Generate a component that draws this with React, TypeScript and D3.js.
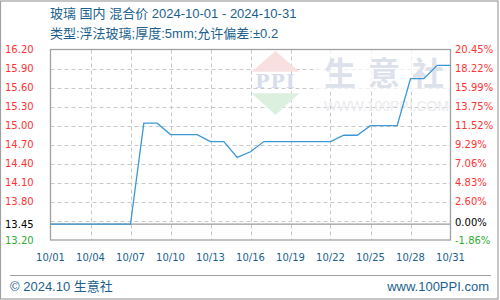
import React from "react";
import * as d3 from "d3";

const dates = [
  "10/01","10/02","10/03","10/04","10/05","10/06","10/07","10/08","10/09","10/10",
  "10/11","10/12","10/13","10/14","10/15","10/16","10/17","10/18","10/19","10/20",
  "10/21","10/22","10/23","10/24","10/25","10/26","10/27","10/28","10/29","10/30","10/31",
];
const prices = [
  13.45, 13.45, 13.45, 13.45, 13.45, 13.45, 13.45, 15.04, 15.04, 14.86,
  14.86, 14.86, 14.75, 14.75, 14.5, 14.59, 14.75, 14.75, 14.75, 14.75,
  14.75, 14.75, 14.85, 14.85, 15.0, 15.0, 15.0, 15.74, 15.74, 15.95, 15.95,
];
const xTickLabels = ["10/01","10/04","10/07","10/10","10/13","10/16","10/19","10/22","10/25","10/28","10/31"];
const yMin = 13.2;
const yMax = 16.2;
const basePrice = 13.45;
const gridValues = [15.9, 15.6, 15.3, 15.0, 14.7, 14.4, 14.1, 13.8, 13.5];
const labelValues = [16.2, 15.9, 15.6, 15.3, 15.0, 14.7, 14.4, 14.1, 13.8];
const titleLine1 = "玻璃 国内 混合价 2024-10-01 - 2024-10-31";
const titleLine2 = "类型:浮法玻璃;厚度:5mm;允许偏差:±0.2";
const footerLeft = "© 2024.10 生意社";
const footerRight = "www.100PPI.com";

const W = 500, H = 300;
const L = 50.5, R = 450.5, T = 49.5, B = 240;

const RED = "#ff3333";
const GREEN = "#33aa33";
const BLUE_TEXT = "#1b5f8e";
const LINE = "#3b97d6";
const AXIS_FONT = "'DejaVu Sans', Verdana, sans-serif";
const TITLE_FONT = "'Liberation Sans', 'Noto Sans CJK SC', sans-serif";

export default function App() {
  const x = d3.scaleLinear().domain([0, dates.length - 1]).range([L, R]);
  const y = d3.scaleLinear().domain([yMin, yMax]).range([B, T]);
  const line = d3
    .line<number>()
    .x((_, i) => x(i))
    .y((d) => y(d));
  const pct = (v: number) => (((v - basePrice) / basePrice) * 100).toFixed(2) + "%";
  const by = y(basePrice);

  return (
    <svg
      width={W}
      height={H}
      style={{ position: "fixed", left: 0, top: 0, background: "#fff" }}
    >
      <rect x={0} y={0} width={W} height={H} fill="#fff" />
      <rect x={0.5} y={1} width={497.5} height={298} fill="none" stroke="#a0a0a0" strokeWidth={1.2} />

      {/* titles */}
      <text x={50} y={18} fontSize={13} fill={BLUE_TEXT} fontFamily={TITLE_FONT}>{titleLine1}</text>
      <text x={50} y={38} fontSize={13} fill={BLUE_TEXT} fontFamily={TITLE_FONT}>{titleLine2}</text>

      {/* gridlines */}
      {gridValues.map((v) => (
        <line key={"h" + v} x1={L} x2={R} y1={Math.round(y(v)) + 0.5} y2={Math.round(y(v)) + 0.5}
          stroke="#c8c8c8" strokeDasharray="4,3" strokeWidth={1} />
      ))}
      {xTickLabels.slice(1, -1).map((d) => {
        const xi = Math.round(x(dates.indexOf(d))) + 0.5;
        return (
          <line key={"v" + d} x1={xi} x2={xi} y1={T} y2={B} stroke="#c8c8c8" strokeDasharray="4,3" strokeWidth={1} />
        );
      })}

      {/* watermark */}
      <g>
        <path d="M275.5,51 L299.3,71.7 L251.7,71.7 Z" fill="#f9e0e0" />
        <text x={275.5} y={88} fontSize={19} fontWeight="bold" textAnchor="middle" fill="#d6ddec"
          fontFamily="'DejaVu Serif', serif" letterSpacing={1}>PPI</text>
        <path d="M251.7,93.3 L299.3,93.3 L275.5,115 Z" fill="#dcf0df" />
        <rect x={317} y={50} width={133} height={42} fill="#fff" opacity={0.7} />
        <text x={324} y={85} fontSize={32} fill="#dce1ec" fontFamily="'Noto Sans CJK SC', sans-serif"
          letterSpacing={12} fontWeight="bold">生意社</text>
        <text x={324} y={111} fontSize={14} fill="#ebebee" fontFamily="'Liberation Sans', sans-serif"
          textLength={125} lengthAdjust="spacingAndGlyphs">WWW.100PPI.COM</text>
      </g>

      {/* base line */}
      <line x1={L} x2={R} y1={by} y2={by} stroke="#999" strokeWidth={1.2} />

      {/* plot border */}
      <rect x={L} y={T} width={R - L} height={B - T} fill="none" stroke="#a0a0a0" strokeWidth={1.3} />

      {/* data line */}
      <path d={line(prices) || ""} fill="none" stroke={LINE} strokeWidth={1.3} />

      {/* left axis labels */}
      {labelValues.map((v) => (
        <text key={"l" + v} x={5} y={y(v)} dy="0.35em" fontSize={10} fill={RED} fontFamily={AXIS_FONT}>
          {v.toFixed(2)}
        </text>
      ))}
      <text x={5} y={by} dy="0.35em" fontSize={10} fill="#000" fontFamily={AXIS_FONT}>{basePrice.toFixed(2)}</text>
      <text x={5} y={B} dy="0.35em" fontSize={10} fill={GREEN} fontFamily={AXIS_FONT}>{yMin.toFixed(2)}</text>

      {/* right axis labels */}
      {labelValues.map((v) => (
        <text key={"r" + v} x={455} y={y(v)} dy="0.35em" fontSize={10} fill={RED} fontFamily={AXIS_FONT}>
          {pct(v)}
        </text>
      ))}
      <text x={455} y={by - 1.5} dy="0.35em" fontSize={10} fill="#000" fontFamily={AXIS_FONT}>{pct(basePrice)}</text>
      <text x={455} y={B} dy="0.35em" fontSize={10} fill={GREEN} fontFamily={AXIS_FONT}>{pct(yMin)}</text>

      {/* x labels */}
      {xTickLabels.map((d) => (
        <text key={"x" + d} x={x(dates.indexOf(d))} y={261} fontSize={10} textAnchor="middle"
          fill={BLUE_TEXT} fontFamily={AXIS_FONT}>{d}</text>
      ))}

      {/* footer */}
      <line x1={10} x2={491} y1={275.5} y2={275.5} stroke="#a0a0a0" strokeWidth={1} />
      <text x={10} y={291} fontSize={13} fill={BLUE_TEXT} fontFamily={TITLE_FONT}>{footerLeft}</text>
      <text x={489} y={291} fontSize={13} textAnchor="end" fill={BLUE_TEXT} fontFamily={TITLE_FONT}>{footerRight}</text>
    </svg>
  );
}
